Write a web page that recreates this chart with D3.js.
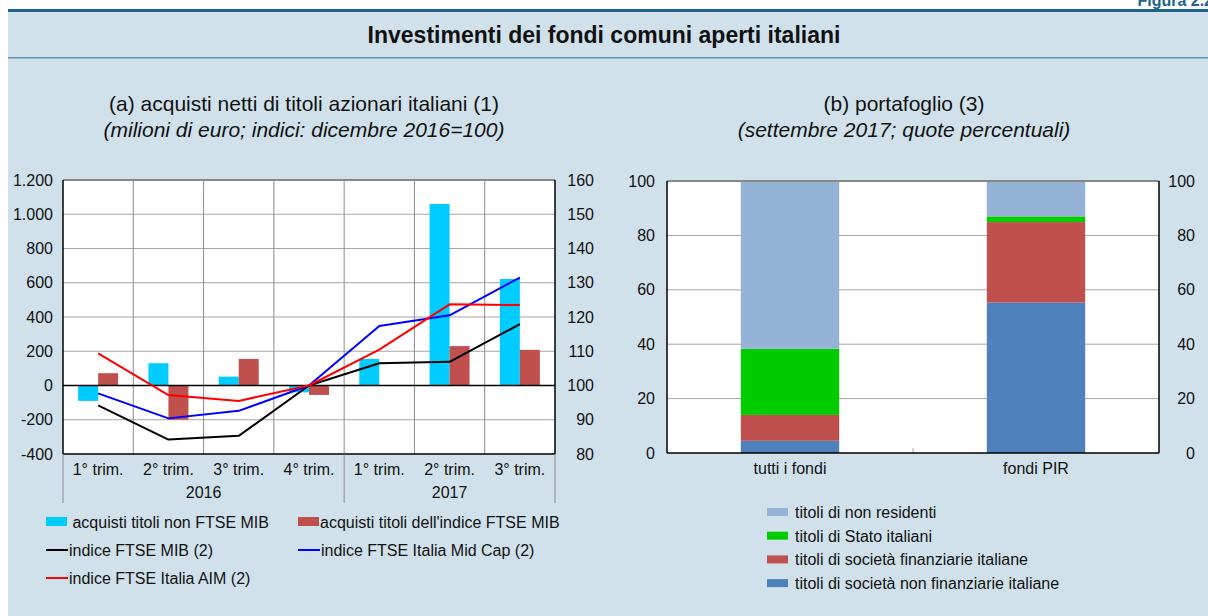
<!DOCTYPE html>
<html>
<head>
<meta charset="utf-8">
<script src="https://cdn.jsdelivr.net/npm/d3@7"></script>
<style>
  body { margin: 0; background: #ffffff; }
  svg { display: block; font-family: "Liberation Sans", Arial, Helvetica, sans-serif; }
</style>
</head>
<body>
<svg id="chart" width="1208" height="616"></svg>
<script>
// ---- Panel (a): net purchases (millions of euro) and indices (Dec 2016 = 100)
const quarters = ["1° trim.", "2° trim.", "3° trim.", "4° trim.", "1° trim.", "2° trim.", "3° trim."];
const yearLabels = ["2016", "2017"];
const yearSpans = [[0, 4], [4, 7]];
const acquistiNonFtseMib = [-90, 130, 52, -40, 155, 1060, 622];
const acquistiFtseMib = [72, -200, 155, -55, 0, 230, 208];
const indiceFtseMib = [94.2, 84.2, 85.3, 100, 106.5, 106.9, 117.9];
const indiceMidCap = [97.7, 90.4, 92.6, 100, 117.4, 120.5, 131.5];
const indiceAim = [109.4, 97.2, 95.5, 100, 110.5, 123.7, 123.5];
const leftTicks = [-400, -200, 0, 200, 400, 600, 800, 1000, 1200];
const rightTicks = [80, 90, 100, 110, 120, 130, 140, 150, 160];

// ---- Panel (b): portfolio shares, September 2017 (percent)
const portfolioCats = ["tutti i fondi", "fondi PIR"];
const nonFinanziarie = [4.5, 55.3];
const finanziarie = [9.5, 29.6];
const statoItaliani = [24.3, 2.1];
const nonResidenti = [61.7, 13.0];
const pctTicks = [0, 20, 40, 60, 80, 100];

const svg = d3.select("#chart");
const itFormat = d3.formatLocale({ decimal: ",", thousands: ".", grouping: [3], currency: ["€", ""], minus: "-" }).format(",d");

const C = {
  panel: "#d0e1eb",
  header: "#1f6489",
  cyan: "#00ccff",
  brick: "#c0504d",
  grid: "#a6a6a6",
  text: "#111111",
  lightBlue: "#95b3d7",
  green: "#00cc00",
  steel: "#4f81bd"
};
const FS = 16; // axis, category and legend text size

// ---- Frame and header
svg.append("rect").attr("x", 8).attr("y", 11).attr("width", 1200).attr("height", 605).attr("fill", C.panel);
svg.append("rect").attr("x", 8).attr("y", 9).attr("width", 1200).attr("height", 3).attr("fill", C.header);
svg.append("rect").attr("x", 8).attr("y", 57).attr("width", 1200).attr("height", 1.5).attr("fill", "#5a8fb0");
svg.append("text").attr("x", 1213).attr("y", 6).attr("text-anchor", "end")
  .attr("font-size", 16).attr("font-weight", "bold").attr("fill", C.header).text("Figura 2.2");
svg.append("text").attr("x", 604).attr("y", 43).attr("text-anchor", "middle")
  .attr("font-size", 23).attr("font-weight", "bold").attr("fill", C.text)
  .text("Investimenti dei fondi comuni aperti italiani");

function subtitle(cx, main, sub) {
  svg.append("text").attr("x", cx).attr("y", 111).attr("text-anchor", "middle")
    .attr("font-size", 21).attr("fill", C.text).text(main);
  svg.append("text").attr("x", cx).attr("y", 137).attr("text-anchor", "middle")
    .attr("font-size", 21).attr("font-style", "italic").attr("fill", C.text).text(sub);
}
subtitle(304, "(a) acquisti netti di titoli azionari italiani (1)", "(milioni di euro; indici: dicembre 2016=100)");
subtitle(904, "(b) portafoglio (3)", "(settembre 2017; quote percentuali)");

// ================= Panel (a) =================
const aL = 63, aR = 555, aT = 180, aB = 454;
const x = d3.scaleBand().domain(d3.range(quarters.length)).range([aL, aR]).padding(0);
const yL = d3.scaleLinear().domain([-400, 1200]).range([aB, aT]);
const yR = d3.scaleLinear().domain([80, 160]).range([aB, aT]);
const barW = 20;
const xSub = d3.scaleBand().domain(["non", "mib"]).range([0, x.bandwidth()])
  .paddingInner(0).paddingOuter((x.bandwidth() / barW - 2) / 2);

const ga = svg.append("g");
ga.append("rect").attr("x", aL).attr("y", aT).attr("width", aR - aL).attr("height", aB - aT).attr("fill", "#fff");

// horizontal gridlines
ga.selectAll("line.hg").data(leftTicks.filter(t => t !== 0 && t !== -400 && t !== 1200)).join("line")
  .attr("x1", aL).attr("x2", aR).attr("y1", d => yL(d)).attr("y2", d => yL(d))
  .attr("stroke", C.grid).attr("stroke-width", 1);
// vertical gridlines between quarters
ga.selectAll("line.vg").data(d3.range(1, quarters.length)).join("line")
  .attr("x1", d => x(d)).attr("x2", d => x(d)).attr("y1", aT).attr("y2", aB)
  .attr("stroke", "#8c8c8c").attr("stroke-width", 1);

// bars
ga.selectAll("rect.non").data(acquistiNonFtseMib).join("rect")
  .attr("x", (d, i) => x(i) + xSub("non")).attr("width", xSub.bandwidth())
  .attr("y", d => yL(Math.max(0, d))).attr("height", d => Math.abs(yL(d) - yL(0)))
  .attr("fill", C.cyan);
ga.selectAll("rect.mib").data(acquistiFtseMib).join("rect")
  .attr("x", (d, i) => x(i) + xSub("mib")).attr("width", xSub.bandwidth())
  .attr("y", d => yL(Math.max(0, d))).attr("height", d => Math.abs(yL(d) - yL(0)))
  .attr("fill", C.brick);

// zero line
ga.append("line").attr("x1", aL).attr("x2", aR).attr("y1", yL(0)).attr("y2", yL(0))
  .attr("stroke", "#000").attr("stroke-width", 1.5);

// index lines
const line = d3.line().x((d, i) => x(i) + x.bandwidth() / 2).y(d => yR(d));
[[indiceFtseMib, "#000000"], [indiceMidCap, "#0000ff"], [indiceAim, "#ff0000"]].forEach(([s, c]) => {
  ga.append("path").datum(s).attr("d", line).attr("fill", "none")
    .attr("stroke", c).attr("stroke-width", 2).attr("stroke-linejoin", "round");
});

// borders
ga.append("line").attr("x1", aL).attr("x2", aR).attr("y1", aT).attr("y2", aT).attr("stroke", "#888").attr("stroke-width", 2);
ga.append("line").attr("x1", aL).attr("x2", aR).attr("y1", aB).attr("y2", aB).attr("stroke", "#000").attr("stroke-width", 1.5);
ga.append("line").attr("x1", aL).attr("x2", aL).attr("y1", aT).attr("y2", aB).attr("stroke", "#000").attr("stroke-width", 1.5);
ga.append("line").attr("x1", aR).attr("x2", aR).attr("y1", aT).attr("y2", aB).attr("stroke", "#000").attr("stroke-width", 1.5);

// year dividers below the plot
[0, 4, 7].forEach(i => {
  const xx = i < quarters.length ? x(i) : aR;
  ga.append("line").attr("x1", xx).attr("x2", xx).attr("y1", aB).attr("y2", 503)
    .attr("stroke", "#8c8c8c").attr("stroke-width", 1);
});

// axes
const axisL = d3.axisLeft(yL).tickValues(leftTicks).tickFormat(itFormat).tickSize(0).tickPadding(10);
const axisR = d3.axisRight(yR).tickValues(rightTicks).tickSize(0).tickPadding(0);
const gl = ga.append("g").attr("transform", `translate(${aL},0)`).call(axisL);
const gr = ga.append("g").attr("transform", `translate(594,0)`).call(axisR);
[gl, gr].forEach(g => {
  g.select(".domain").remove();
  g.selectAll("text").attr("font-size", FS).attr("fill", C.text).attr("font-family", null);
});
gr.selectAll("text").attr("text-anchor", "end");

// category and year labels
ga.selectAll("text.q").data(quarters).join("text")
  .attr("x", (d, i) => x(i) + x.bandwidth() / 2).attr("y", 475).attr("text-anchor", "middle")
  .attr("font-size", FS).attr("fill", C.text).text(d => d);
ga.selectAll("text.yr").data(yearLabels).join("text")
  .attr("x", (d, i) => (x(yearSpans[i][0]) + (yearSpans[i][1] < quarters.length ? x(yearSpans[i][1]) : aR)) / 2)
  .attr("y", 498).attr("text-anchor", "middle")
  .attr("font-size", FS).attr("fill", C.text).text(d => d);

// legend (a)
const legA = [
  { t: " acquisti titoli non FTSE MIB", type: "rect", c: C.cyan, x: 46, y: 522 },
  { t: "acquisti titoli dell'indice FTSE MIB", type: "rect", c: C.brick, x: 298, y: 522 },
  { t: "indice FTSE MIB (2)", type: "line", c: "#000000", x: 46, y: 550 },
  { t: "indice FTSE Italia Mid Cap (2)", type: "line", c: "#0000ff", x: 298, y: 550 },
  { t: "indice FTSE Italia AIM (2)", type: "line", c: "#ff0000", x: 46, y: 578 }
];
legA.forEach(d => {
  if (d.type === "rect") {
    svg.append("rect").attr("x", d.x).attr("y", d.y - 5).attr("width", 21).attr("height", 9).attr("fill", d.c);
  } else {
    svg.append("line").attr("x1", d.x).attr("x2", d.x + 22).attr("y1", d.y).attr("y2", d.y)
      .attr("stroke", d.c).attr("stroke-width", 2);
  }
  svg.append("text").attr("x", d.x + (d.type === "rect" ? 22 : 23)).attr("y", d.y + 6)
    .attr("font-size", FS).attr("fill", C.text)
    .style("white-space", "pre").text(d.t);
});

// ================= Panel (b) =================
const bL = 667, bR = 1159, bT = 181, bB = 453;
const xb = d3.scaleBand().domain(portfolioCats).range([bL, bR]).paddingInner(0.6).paddingOuter(0.3);
const yb = d3.scaleLinear().domain([0, 100]).range([bB, bT]);

const gb = svg.append("g");
gb.append("rect").attr("x", bL).attr("y", bT).attr("width", bR - bL).attr("height", bB - bT).attr("fill", "#fff");
gb.selectAll("line.hg").data(pctTicks.filter(t => t > 0 && t < 100)).join("line")
  .attr("x1", bL).attr("x2", bR).attr("y1", d => yb(d)).attr("y2", d => yb(d))
  .attr("stroke", C.grid).attr("stroke-width", 1);

const keys = ["nonFinanziarie", "finanziarie", "statoItaliani", "nonResidenti"];
const colors = { nonFinanziarie: C.steel, finanziarie: C.brick, statoItaliani: C.green, nonResidenti: C.lightBlue };
const rows = portfolioCats.map((c, i) => ({
  cat: c,
  nonFinanziarie: nonFinanziarie[i],
  finanziarie: finanziarie[i],
  statoItaliani: statoItaliani[i],
  nonResidenti: nonResidenti[i]
}));
const stacked = d3.stack().keys(keys)(rows);
stacked.forEach(layer => {
  gb.selectAll(null).data(layer).join("rect")
    .attr("x", d => xb(d.data.cat)).attr("width", xb.bandwidth())
    .attr("y", d => yb(d[1])).attr("height", d => yb(d[0]) - yb(d[1]))
    .attr("fill", colors[layer.key]);
});

// small tick between categories
gb.append("line").attr("x1", (bL + bR) / 2).attr("x2", (bL + bR) / 2).attr("y1", bB - 5).attr("y2", bB)
  .attr("stroke", "#aaa").attr("stroke-width", 1);

gb.append("line").attr("x1", bL).attr("x2", bR).attr("y1", bT).attr("y2", bT).attr("stroke", "#888").attr("stroke-width", 2);
gb.append("line").attr("x1", bL).attr("x2", bR).attr("y1", bB).attr("y2", bB).attr("stroke", "#000").attr("stroke-width", 1.5);
gb.append("line").attr("x1", bL).attr("x2", bL).attr("y1", bT).attr("y2", bB).attr("stroke", "#000").attr("stroke-width", 1.5);
gb.append("line").attr("x1", bR).attr("x2", bR).attr("y1", bT).attr("y2", bB).attr("stroke", "#000").attr("stroke-width", 1.5);

const gbl = gb.append("g").attr("transform", `translate(${bL},0)`)
  .call(d3.axisLeft(yb).tickValues(pctTicks).tickSize(0).tickPadding(12));
const gbr = gb.append("g").attr("transform", `translate(1195,0)`)
  .call(d3.axisRight(yb).tickValues(pctTicks).tickSize(0).tickPadding(0));
[gbl, gbr].forEach(g => {
  g.select(".domain").remove();
  g.selectAll("text").attr("font-size", FS).attr("fill", C.text).attr("font-family", null);
});
gbr.selectAll("text").attr("text-anchor", "end");

gb.selectAll("text.cat").data(portfolioCats).join("text")
  .attr("x", d => xb(d) + xb.bandwidth() / 2).attr("y", 474).attr("text-anchor", "middle")
  .attr("font-size", FS).attr("fill", C.text).text(d => d);

// legend (b)
const legB = [
  { t: "titoli di non residenti", c: C.lightBlue },
  { t: "titoli di Stato italiani", c: C.green },
  { t: "titoli di società finanziarie italiane", c: C.brick },
  { t: "titoli di società non finanziarie italiane", c: C.steel }
];
legB.forEach((d, i) => {
  const yy = 512 + i * 23.7;
  svg.append("rect").attr("x", 767).attr("y", yy - 4).attr("width", 21).attr("height", 8).attr("fill", d.c);
  svg.append("text").attr("x", 795).attr("y", yy + 6).attr("font-size", FS).attr("fill", C.text).text(d.t);
});
</script>
</body>
</html>
